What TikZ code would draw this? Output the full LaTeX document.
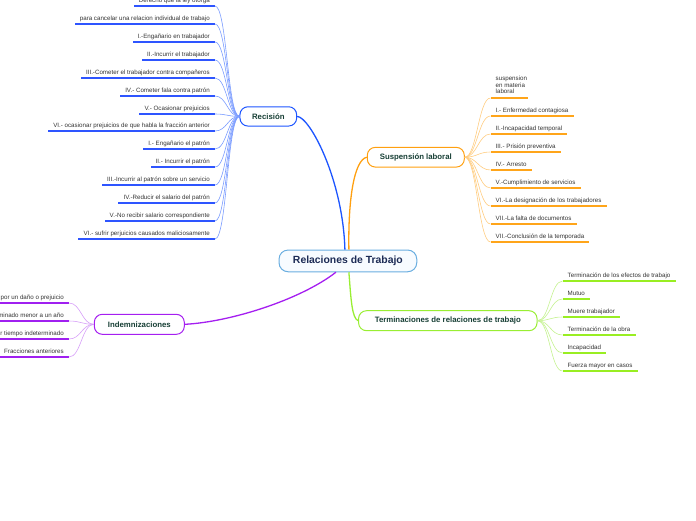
\documentclass[tikz,border=0pt]{standalone}
\usepackage{fontspec}
\setmainfont{Liberation Sans}
\definecolor{leaftext}{HTML}{333333}
\definecolor{nodetext}{HTML}{173F35}
\definecolor{centertext}{HTML}{1C2B55}
\definecolor{bluemain}{HTML}{1D55FF}
\definecolor{blueul}{HTML}{2E55FF}
\definecolor{bluethin}{HTML}{7B9CFF}
\definecolor{orgmain}{HTML}{FFA010}
\definecolor{orgul}{HTML}{FFA51A}
\definecolor{orgthin}{HTML}{FFCC80}
\definecolor{grnmain}{HTML}{99EE33}
\definecolor{grnul}{HTML}{99EE22}
\definecolor{grnthin}{HTML}{C4F290}
\definecolor{purmain}{HTML}{A51FF0}
\definecolor{purul}{HTML}{A020F0}
\definecolor{purthin}{HTML}{D7A0F8}
\definecolor{centerline}{HTML}{6AAEE0}
\definecolor{centerfill}{HTML}{F7FBFF}
\begin{document}
\begin{tikzpicture}[x=1pt,y=-1pt,
  leafbase/.style={inner xsep=5pt, inner ysep=2.6pt, text=leaftext,
    font=\fontsize{6.2}{6.6}\selectfont},
  leaf/.style={leafbase, text height=4.6pt, text depth=1.2pt},
  branch/.style={draw=#1, line width=1pt, fill=white, rounded corners=8pt,
    inner sep=0pt, text=nodetext, font=\fontsize{7.8}{9}\selectfont\bfseries},
  centerbox/.style={draw=centerline, line width=1pt, fill=centerfill, rounded corners=9pt,
    inner sep=0pt, text=centertext, font=\fontsize{10.4}{12}\selectfont\bfseries},
  ulfill/.style={fill=#1, draw=none},
  leafline/.style={draw=#1, line width=0.6pt},
  mainline/.style={draw=#1, line width=1.3pt}
]
\useasboundingbox (0,0) rectangle (696,520);
\clip (0,0) rectangle (696,520);

% main nodes
\node[centerbox, minimum width=137.7pt, minimum height=21.7pt] (c) at (347.9,260.9) {Relaciones de Trabajo};
\node[branch=bluemain, minimum width=56.7pt, minimum height=19.3pt] (rec) at (268.3,116.4) {Recisión};
\node[branch=orgmain, minimum width=97pt, minimum height=19.7pt] (sus) at (415.8,157.2) {Suspensión laboral};
\node[branch=grnmain, minimum width=178.5pt, minimum height=20pt] (ter) at (447.8,320.7) {Terminaciones de relaciones de trabajo};
\node[branch=purmain, minimum width=90pt, minimum height=20pt] (ind) at (139.3,324.3) {Indemnizaciones};

% main connectors
\draw[mainline=bluemain] ([xshift=-3pt]c.north) .. controls (343,180) and (310,117) .. (rec.east);
\draw[mainline=orgmain] ([xshift=1pt]c.north) .. controls (348,200) and (354,160) .. (sus.west);
\draw[mainline=grnmain] ([xshift=1pt]c.south) .. controls (351,300) and (352,318) .. (ter.west);
\draw[mainline=purmain] ([xshift=-12pt]c.south) .. controls (300,300) and (230,322) .. (ind.east);

% Recision leaves
\foreach \txt [count=\k from 0] in {
  {Derecho que la ley otorga},
  {para cancelar una relacion individual de trabajo},
  {I.-Engañario en trabajador},
  {II.-Incurrir el trabajador},
  {III.-Cometer el trabajador contra compañeros},
  {IV.- Cometer fala contra patrón},
  {V.- Ocasionar prejuicios},
  {VI.- ocasionar prejuicios de que habla la fracción anterior},
  {I.- Engañario el patrón},
  {II.- Incurrir el patrón},
  {III.-Incurrir al patrón sobre un servicio},
  {IV.-Reducir el salario del patrón},
  {V.-No recibir salario correspondiente},
  {VI.- sufrir perjuicios causados maliciosamente}} {
  \node[leaf, anchor=south east] (r\k) at (215, {round(5.7+17.97*\k)}) {\txt};
  \fill[ulfill=blueul] ([yshift=1pt]r\k.south west) rectangle ([yshift=-1pt]r\k.south east);
  \draw[leafline=bluethin] (rec.west) .. controls +(-12,0) and +(12,0) .. (r\k.south east);
}

% Suspension leaves
\node[leafbase, align=left, inner ysep=3.8pt, anchor=south west] (s0) at (490.5,98) {suspension\\en materia\\laboral};
\fill[ulfill=orgul] ([yshift=1pt]s0.south west) rectangle ([yshift=-1pt,xshift=-4pt]s0.south east);
\draw[leafline=orgthin] (sus.east) .. controls +(12,0) and +(-12,0) .. (s0.south west);
\foreach \txt [count=\k from 1] in {
  {I.- Enfermedad contagiosa},
  {II.-Incapacidad temporal},
  {III.- Prisión preventiva},
  {IV.- Arresto},
  {V.-Cumplimiento de servicios},
  {VI.-La designación de los trabajadores},
  {VII.-La falta de documentos},
  {VII.-Conclusión de la temporada}} {
  \node[leaf, anchor=south west] (s\k) at (490.5, {round(98.2+18*\k)}) {\txt};
  \fill[ulfill=orgul] ([yshift=1pt]s\k.south west) rectangle ([yshift=-1pt]s\k.south east);
  \draw[leafline=orgthin] (sus.east) .. controls +(12,0) and +(-12,0) .. (s\k.south west);
}

% Terminaciones leaves
\foreach \txt [count=\k from 0] in {
  {Terminación de los efectos de trabajo},
  {Mutuo},
  {Muere trabajador},
  {Terminación de la obra},
  {Incapacidad},
  {Fuerza mayor en casos}} {
  \node[leaf, anchor=south west] (t\k) at (562.5, {round(281.2+18*\k)}) {\txt};
  \fill[ulfill=grnul] ([yshift=1pt]t\k.south west) rectangle ([yshift=-1pt]t\k.south east);
  \draw[leafline=grnthin] (ter.east) .. controls +(12,0) and +(-12,0) .. (t\k.south west);
}

% Indemnizaciones leaves
\foreach \txt [count=\k from 0] in {
  {por un daño o prejuicio},
  {minado menor a un año},
  {r tiempo indeterminado},
  {Fracciones anteriores}} {
  \node[leaf, anchor=south east] (i\k) at (69, {round(303+17.9*\k)}) {\txt};
  \fill[ulfill=purul] ([yshift=1pt]i\k.south west) rectangle ([yshift=-1pt]i\k.south east);
  \draw[leafline=purthin] (ind.west) .. controls +(-12,0) and +(12,0) .. (i\k.south east);
}
\end{tikzpicture}
\end{document}
